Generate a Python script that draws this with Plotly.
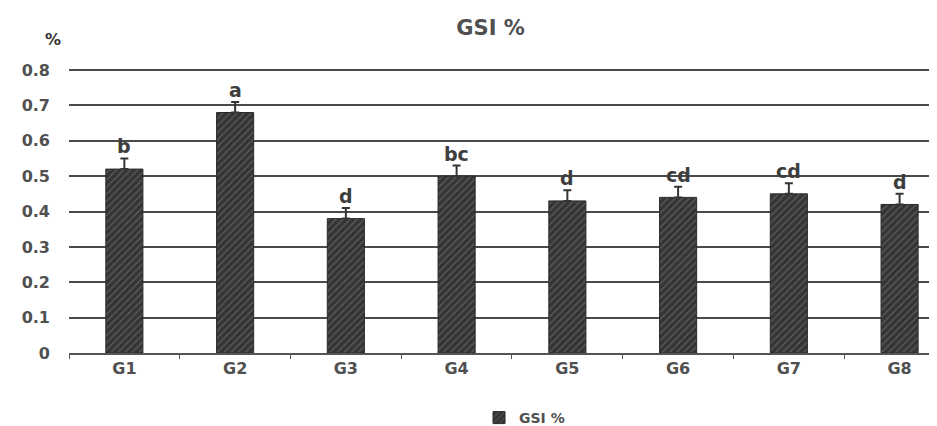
import plotly.graph_objects as go

categories = ["G1", "G2", "G3", "G4", "G5", "G6", "G7", "G8"]
gsi_values = [0.52, 0.68, 0.38, 0.50, 0.43, 0.44, 0.45, 0.42]
gsi_errors = [0.03, 0.03, 0.03, 0.03, 0.03, 0.03, 0.03, 0.03]
sig_letters = ["b", "a", "d", "bc", "d", "cd", "cd", "d"]
y_ticks = [0, 0.1, 0.2, 0.3, 0.4, 0.5, 0.6, 0.7, 0.8]
y_tick_labels = ["0", "0.1", "0.2", "0.3", "0.4", "0.5", "0.6", "0.7", "0.8"]

TXT = "#505050"
FONT = "DejaVu Sans"

fig = go.Figure()
fig.add_trace(go.Bar(
    x=categories, y=gsi_values, name="GSI %",
    width=0.335,
    marker=dict(color="#353535", line=dict(color="#2a2a2a", width=1),
                pattern=dict(shape="/", fgcolor="#8a8a8a", bgcolor="#353535",
                             size=5, solidity=0.22)),
    error_y=dict(type="data", array=gsi_errors, symmetric=False, arrayminus=[0]*8,
                 color="#353535", thickness=2, width=4),
))

for c, v, e, t in zip(categories, gsi_values, gsi_errors, sig_letters):
    fig.add_annotation(x=c, y=v + e, text="<b>" + t + "</b>", showarrow=False,
                       yanchor="bottom", yshift=-1,
                       font=dict(family=FONT, size=19, color="#3e3e3e"))

fig.add_annotation(xref="paper", yref="paper", x=-0.007, y=1.105, text="<b>%</b>",
                   showarrow=False, xanchor="right", yanchor="middle",
                   font=dict(family=FONT, size=16, color="#333333"))

fig.update_layout(
    width=937, height=426,
    margin=dict(l=61, r=0, t=61, b=79),
    paper_bgcolor="white", plot_bgcolor="white",
    title=dict(text="<b>GSI %</b>", x=0.515, xanchor="center", y=0.953, yanchor="middle",
               font=dict(family=FONT, size=21, color=TXT)),
    showlegend=True,
    legend=dict(orientation="h", x=0.52, xanchor="center", y=-0.23, yanchor="middle",
                font=dict(family=FONT, size=14, color=TXT, weight="bold"), itemwidth=30),
    bargap=0.665,
)
fig.update_xaxes(range=[-0.5, 7.41], showline=True, linecolor="#555555", linewidth=2,
                 ticks="outside", tickson="boundaries", ticklen=4, tickcolor="#555555",
                 tickfont=dict(family=FONT, size=16, color=TXT, weight="bold"),
                 showgrid=False)
fig.update_yaxes(range=[0, 0.803], tickvals=y_ticks, ticktext=y_tick_labels,
                 showgrid=True, gridcolor="#4a4a4a", gridwidth=1.8,
                 zeroline=False, showline=False, ticks="", ticklabelstandoff=18,
                 tickfont=dict(family=FONT, size=16, color=TXT, weight="bold"))

fig.write_html("out.html")
